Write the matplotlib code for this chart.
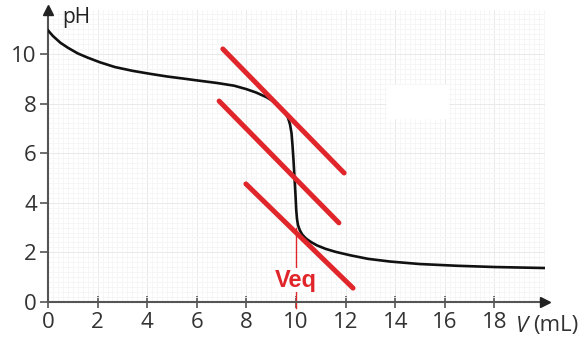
import matplotlib
matplotlib.use('Agg')
import matplotlib.pyplot as plt
from matplotlib.patches import Rectangle
import numpy as np

plt.rcParams['font.family'] = ['Open Sans', 'DejaVu Sans']

# titration curve
vol = [0, 0.2, 0.5, 0.8, 1.2, 1.6, 2.1, 2.7, 3.4, 4.1, 4.8, 5.5, 6.1, 6.8, 7.5,
       8.0, 8.4, 8.8, 9.1, 9.35, 9.55, 9.68, 9.76, 9.82, 9.86, 9.9, 9.94, 9.98,
       10.01, 10.04, 10.08, 10.15, 10.25, 10.4, 10.6, 10.85, 11.2, 11.6, 12.2,
       12.9, 13.8, 15.0, 16.5, 18.0, 20.0]
ph = [10.95, 10.72, 10.45, 10.25, 10.02, 9.85, 9.66, 9.47, 9.32, 9.2, 9.09, 9.0,
      8.92, 8.83, 8.72, 8.58, 8.44, 8.26, 8.08, 7.88, 7.65, 7.42, 7.15, 6.8, 6.3,
      5.7, 5.0, 4.3, 3.7, 3.35, 3.1, 2.9, 2.72, 2.56, 2.42, 2.28, 2.14, 2.02,
      1.88, 1.74, 1.63, 1.53, 1.46, 1.41, 1.37]

# parallel tangents (start, end)
tan_v = [[7.05, 11.94], [6.9, 11.73], [7.98, 12.3]]
tan_ph = [[10.2, 5.2], [8.1, 3.19], [4.76, 0.56]]

v_eq = 10
xticks = [0, 2, 4, 6, 8, 10, 12, 14, 16, 18]
yticks = [0, 2, 4, 6, 8, 10]

red = '#e0262b'
axcol = '#555555'

fig = plt.figure(figsize=(5.87, 3.44), dpi=100)
ax = fig.add_axes([48/587, 42/344, 497/587, 292/344])
ax.set_xlim(0, 20.04)
ax.set_ylim(0, 11.77)

# faint paper grid
ax.set_xticks(np.arange(0, 20.1, 0.2), minor=True)
ax.set_yticks(np.arange(0, 11.8, 0.2), minor=True)
ax.grid(which='minor', color='#f5f5f5', lw=0.6)
ax.grid(which='major', color='#e9e9e9', lw=0.7)
ax.set_axisbelow(True)

ax.add_patch(Rectangle((13.67, 7.42), 2.46, 1.33, color='white', zorder=1))

ax.plot(vol, ph, color='#111111', lw=1.9, zorder=3, solid_joinstyle='round')

for tv, tp in zip(tan_v, tan_ph):
    ax.plot(tv, tp, color=red, lw=3.6, solid_capstyle='round', zorder=4)

ax.plot([v_eq, v_eq], [-0.25, 3.0], color=red, lw=1.0, clip_on=False, zorder=2)
ax.text(v_eq, 0.88, 'Veq', color=red, fontsize=17, fontweight='bold',
        family='Liberation Sans', ha='center', va='center', zorder=5,
        bbox=dict(facecolor='white', edgecolor='none', pad=0.3))

for s in ['top', 'right']:
    ax.spines[s].set_visible(False)
for s in ['left', 'bottom']:
    ax.spines[s].set_color(axcol)
    ax.spines[s].set_linewidth(1.5)

ax.plot([0], [11.77], marker='^', color='#222222', ms=7, clip_on=False, zorder=6)
ax.plot([20.04], [0], marker='>', color='#222222', ms=7, clip_on=False, zorder=6)

ax.set_xticks(xticks)
ax.set_yticks(yticks)
ax.tick_params(which='minor', length=0)
ax.tick_params(axis='x', which='major', direction='inout', length=8, width=1.2,
               color=axcol, labelsize=16, labelcolor='#333333', pad=3)
ax.tick_params(axis='y', which='major', direction='out', length=6, width=1.2,
               color=axcol, labelsize=16, labelcolor='#333333', pad=2)

fig.text(62/587, 1 - 18/344, 'pH', fontsize=15, color='#222222', va='center', ha='left')
fig.text(516/587, 1 - 326/344, 'V', fontsize=16, style='italic', color='#333333',
         va='center', ha='left')
fig.text(533/587, 1 - 326/344, '(mL)', fontsize=16, color='#333333',
         va='center', ha='left')

fig.savefig('out.png', dpi=100)
